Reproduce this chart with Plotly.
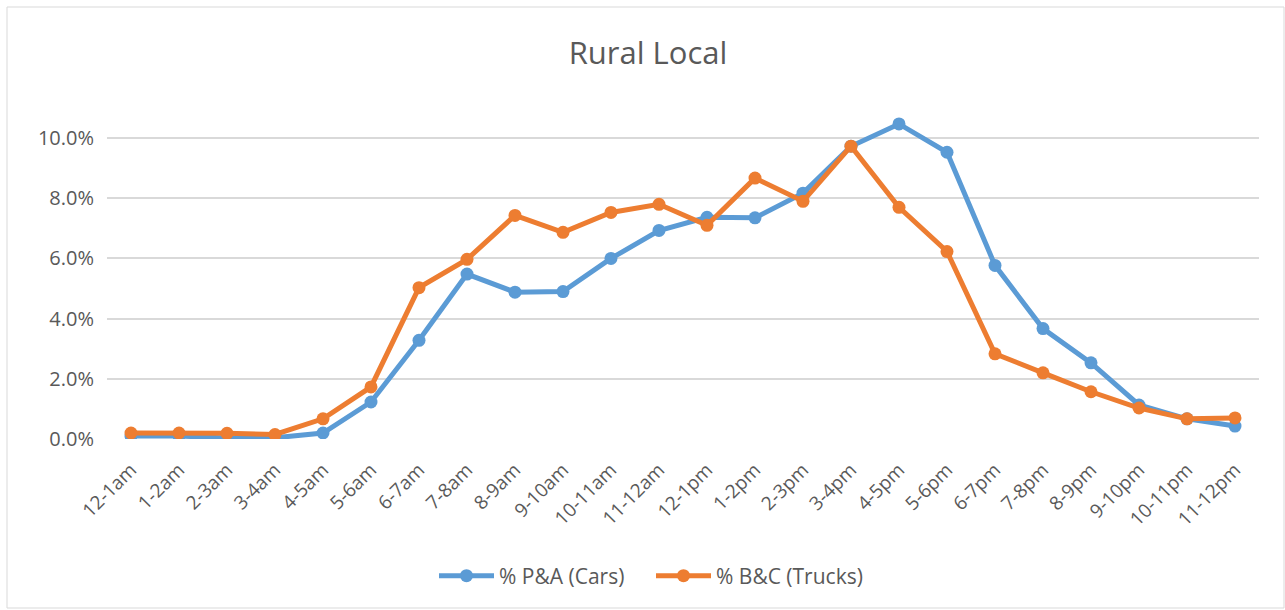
import plotly.graph_objects as go

hours = ["12-1am", "1-2am", "2-3am", "3-4am", "4-5am", "5-6am", "6-7am", "7-8am",
         "8-9am", "9-10am", "10-11am", "11-12am", "12-1pm", "1-2pm", "2-3pm", "3-4pm",
         "4-5pm", "5-6pm", "6-7pm", "7-8pm", "8-9pm", "9-10pm", "10-11pm", "11-12pm"]

cars = [0.0010, 0.0010, 0.0003, 0.0004, 0.0020, 0.0123, 0.0328, 0.0548,
        0.0488, 0.0490, 0.0600, 0.0693, 0.0737, 0.0735, 0.0817, 0.0973,
        0.1047, 0.0953, 0.0577, 0.0367, 0.0253, 0.0113, 0.0067, 0.0043]

trucks = [0.0020, 0.0020, 0.0019, 0.0015, 0.0067, 0.0173, 0.0503, 0.0597,
          0.0743, 0.0687, 0.0753, 0.0780, 0.0710, 0.0867, 0.0790, 0.0973,
          0.0770, 0.0623, 0.0283, 0.0220, 0.0157, 0.0103, 0.0067, 0.0070]

yticks = [0.0, 0.02, 0.04, 0.06, 0.08, 0.10]

W, H = 1285, 610
L, R, T, B = 107, 26, 108, 171
pw, ph = W - L - R, H - T - B

def px(x):
    return (x - L) / pw

def py(y):
    return (H - B - y) / ph

fig = go.Figure()
fig.add_trace(go.Scatter(x=hours, y=cars, name="% P&A (Cars)", mode="lines+markers",
                         line=dict(color="#5B9BD5", width=5),
                         marker=dict(color="#5B9BD5", size=13)))
fig.add_trace(go.Scatter(x=hours, y=trucks, name="% B&C (Trucks)", mode="lines+markers",
                         line=dict(color="#ED7D31", width=5),
                         marker=dict(color="#ED7D31", size=13)))

fig.update_layout(
    width=W, height=H,
    margin=dict(l=L, r=R, t=T, b=B, autoexpand=False),
    paper_bgcolor="white", plot_bgcolor="white",
    font=dict(family="Open Sans", color="#595959", size=19),
    title=dict(text="Rural Local", x=648 / W, xref="container", xanchor="center",
               y=1 - 53 / H, yref="container", yanchor="middle",
               font=dict(size=31, color="#595959")),
    showlegend=True,
    legend=dict(orientation="h", x=px(434), xanchor="left",
                y=py(576), yanchor="middle", entrywidth=147, entrywidthmode="pixels",
                itemwidth=55,
                font=dict(size=21, color="#595959")),
    xaxis=dict(type="category", tickangle=-45, showgrid=False, showline=False,
               tickmode="array", tickvals=hours, ticktext=hours,
               ticks="", tickfont=dict(size=19), range=[-0.5, 23.5],
               ticklabelstandoff=15),
    yaxis=dict(range=[0, 0.11], tickvals=yticks, tickformat=".1%",
               showgrid=True, gridcolor="#D9D9D9", gridwidth=1.5,
               zeroline=False, showline=False, ticks="", tickfont=dict(size=20),
               ticklabelstandoff=12),
    shapes=[dict(type="rect", xref="paper", yref="paper",
                 x0=px(7), x1=px(1284), y0=py(608), y1=py(7),
                 line=dict(color="#D9D9D9", width=1), layer="below")],
)

fig.write_html("out.html", config={"displayModeBar": False},
               post_script="document.body.style.margin='0';")
